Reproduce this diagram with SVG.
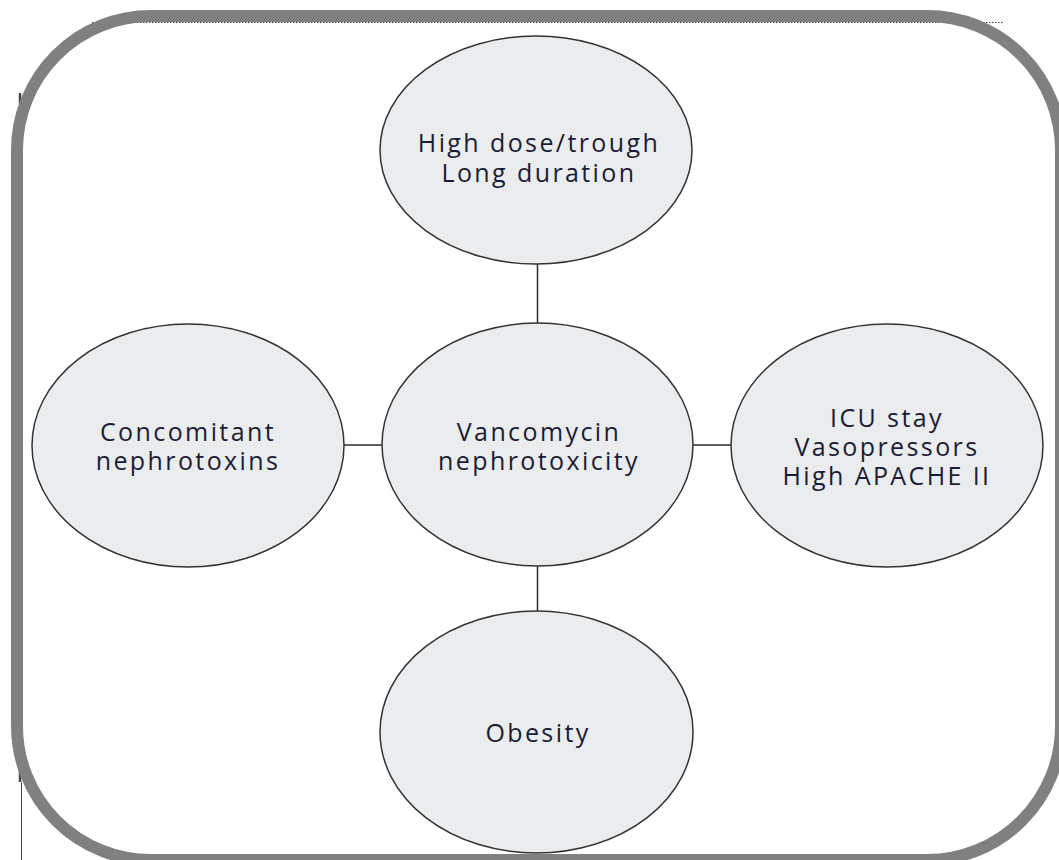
<svg xmlns="http://www.w3.org/2000/svg" width="1059" height="860" viewBox="0 0 1059 860">
  <style>
    .node ellipse { fill: #ebeced; stroke: #333333; stroke-width: 1.5; }
    .node text { font-family: "Open Sans", "Noto Sans", sans-serif; font-size: 25px; fill: #1a1c36; text-anchor: middle; letter-spacing: 2.4px; }
    .conn line { stroke: #2b2b2b; stroke-width: 1.5; }
    .frame { fill: none; stroke: #808080; stroke-width: 12; }
    .artifact { stroke: #444; fill: none; }
  </style>
  <rect x="0" y="0" width="1059" height="860" fill="#ffffff"/>
  <g id="artifacts">
    <line class="artifact" x1="92" y1="22.5" x2="1003" y2="22.5" stroke-width="1" stroke-dasharray="1.5 1.5"/>
    <line class="artifact" x1="20" y1="93" x2="20" y2="104" stroke-width="2.5" stroke="#222"/>
    <line class="artifact" x1="20" y1="770" x2="20" y2="782" stroke-width="2.5" stroke="#222"/>
    <line class="artifact" x1="21.5" y1="782" x2="21.5" y2="860" stroke-width="1" stroke="#999"/>
  </g>
  <rect id="frame" class="frame" x="17" y="16" width="1044" height="844" rx="134" ry="134"/>
  <g id="connectors" class="conn">
    <line x1="537.5" y1="264" x2="537.5" y2="323"/>
    <line x1="537.5" y1="566" x2="537.5" y2="611"/>
    <line x1="344" y1="445" x2="382" y2="445"/>
    <line x1="693" y1="445" x2="731" y2="445"/>
  </g>
  <g id="node-top" class="node">
    <ellipse cx="536" cy="150" rx="156" ry="114"/>
    <text><tspan x="539" y="152">High dose/trough</tspan><tspan x="539" y="182">Long duration</tspan></text>
  </g>
  <g id="node-center" class="node">
    <ellipse cx="537.5" cy="444.5" rx="155.5" ry="121.5"/>
    <text><tspan x="539" y="441">Vancomycin</tspan><tspan x="539" y="470">nephrotoxicity</tspan></text>
  </g>
  <g id="node-left" class="node">
    <ellipse cx="188" cy="445.5" rx="156" ry="121.5"/>
    <text><tspan x="188" y="441">Concomitant</tspan><tspan x="188" y="470">nephrotoxins</tspan></text>
  </g>
  <g id="node-right" class="node">
    <ellipse cx="887" cy="445.5" rx="156" ry="121.5"/>
    <text><tspan x="887" y="427">ICU stay</tspan><tspan x="887" y="456">Vasopressors</tspan><tspan x="887" y="485">High APACHE II</tspan></text>
  </g>
  <g id="node-bottom" class="node">
    <ellipse cx="536.5" cy="732" rx="156.5" ry="121"/>
    <text x="538" y="742">Obesity</text>
  </g>
</svg>
